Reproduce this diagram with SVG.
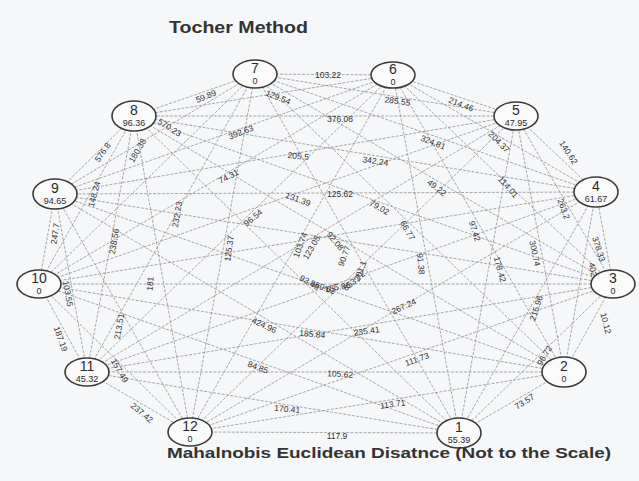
<svg xmlns="http://www.w3.org/2000/svg" width="639" height="481" viewBox="0 0 639 481">
<style>
.bg{fill:#f6f7f9}
.edge line{stroke:#939393;stroke-width:0.8;stroke-dasharray:3 1.4}
.node ellipse{fill:#fafafa;stroke:#3a3a3a;stroke-width:1.6}
.num{font-family:"Liberation Sans",Arial,sans-serif;font-size:14px;fill:#2a2a2a;text-anchor:middle}
.val{font-family:"Liberation Sans",Arial,sans-serif;font-size:9px;fill:#2a2a2a;text-anchor:middle}
.lbl text{font-family:"Liberation Sans",Arial,sans-serif;font-size:8.5px;fill:#333;text-anchor:middle}
.title{font-family:"Liberation Sans",Arial,sans-serif;font-weight:bold;fill:#333}
</style>
<rect class="bg" x="0" y="0" width="639" height="481"/>
<text class="title" x="169" y="33" font-size="17" textLength="139" lengthAdjust="spacingAndGlyphs">Tocher Method</text>
<g id="connectors" class="edge">
<line x1="459" y1="433" x2="564" y2="372"/><line x1="459" y1="433" x2="613" y2="284"/><line x1="459" y1="433" x2="596" y2="192"/><line x1="459" y1="433" x2="516" y2="116"/><line x1="459" y1="433" x2="393" y2="75"/><line x1="459" y1="433" x2="255" y2="74"/><line x1="459" y1="433" x2="134" y2="116"/><line x1="459" y1="433" x2="55" y2="194"/><line x1="459" y1="433" x2="39" y2="284"/><line x1="459" y1="433" x2="87" y2="372"/><line x1="459" y1="433" x2="190" y2="432"/>
<line x1="564" y1="372" x2="613" y2="284"/><line x1="564" y1="372" x2="596" y2="192"/><line x1="564" y1="372" x2="516" y2="116"/><line x1="564" y1="372" x2="393" y2="75"/><line x1="564" y1="372" x2="255" y2="74"/><line x1="564" y1="372" x2="134" y2="116"/><line x1="564" y1="372" x2="55" y2="194"/><line x1="564" y1="372" x2="39" y2="284"/><line x1="564" y1="372" x2="87" y2="372"/><line x1="564" y1="372" x2="190" y2="432"/>
<line x1="613" y1="284" x2="596" y2="192"/><line x1="613" y1="284" x2="516" y2="116"/><line x1="613" y1="284" x2="393" y2="75"/><line x1="613" y1="284" x2="255" y2="74"/><line x1="613" y1="284" x2="134" y2="116"/><line x1="613" y1="284" x2="55" y2="194"/><line x1="613" y1="284" x2="39" y2="284"/><line x1="613" y1="284" x2="87" y2="372"/><line x1="613" y1="284" x2="190" y2="432"/>
<line x1="596" y1="192" x2="516" y2="116"/><line x1="596" y1="192" x2="393" y2="75"/><line x1="596" y1="192" x2="255" y2="74"/><line x1="596" y1="192" x2="134" y2="116"/><line x1="596" y1="192" x2="55" y2="194"/><line x1="596" y1="192" x2="39" y2="284"/><line x1="596" y1="192" x2="87" y2="372"/><line x1="596" y1="192" x2="190" y2="432"/>
<line x1="516" y1="116" x2="393" y2="75"/><line x1="516" y1="116" x2="255" y2="74"/><line x1="516" y1="116" x2="134" y2="116"/><line x1="516" y1="116" x2="55" y2="194"/><line x1="516" y1="116" x2="39" y2="284"/><line x1="516" y1="116" x2="87" y2="372"/><line x1="516" y1="116" x2="190" y2="432"/>
<line x1="393" y1="75" x2="255" y2="74"/><line x1="393" y1="75" x2="134" y2="116"/><line x1="393" y1="75" x2="55" y2="194"/><line x1="393" y1="75" x2="39" y2="284"/><line x1="393" y1="75" x2="87" y2="372"/><line x1="393" y1="75" x2="190" y2="432"/>
<line x1="255" y1="74" x2="134" y2="116"/><line x1="255" y1="74" x2="55" y2="194"/><line x1="255" y1="74" x2="39" y2="284"/><line x1="255" y1="74" x2="87" y2="372"/><line x1="255" y1="74" x2="190" y2="432"/>
<line x1="134" y1="116" x2="55" y2="194"/><line x1="134" y1="116" x2="39" y2="284"/><line x1="134" y1="116" x2="87" y2="372"/><line x1="134" y1="116" x2="190" y2="432"/>
<line x1="55" y1="194" x2="39" y2="284"/><line x1="55" y1="194" x2="87" y2="372"/><line x1="55" y1="194" x2="190" y2="432"/>
<line x1="39" y1="284" x2="87" y2="372"/><line x1="39" y1="284" x2="190" y2="432"/>
<line x1="87" y1="372" x2="190" y2="432"/>
</g>
<g id="labels" class="lbl">
<text transform="translate(328,78)">103.22</text>
<text transform="translate(207,99) rotate(-22)">59.89</text>
<text transform="translate(277,100) rotate(22)">129.54</text>
<text transform="translate(397,104) rotate(8)">285.55</text>
<text transform="translate(460,107) rotate(22)">214.46</text>
<text transform="translate(340,122)">376.08</text>
<text transform="translate(168,130) rotate(32)">570.23</text>
<text transform="translate(242,135) rotate(-22)">392.63</text>
<text transform="translate(105,154) rotate(-55)">576.8</text>
<text transform="translate(432,145) rotate(22)">324.81</text>
<text transform="translate(298,159) rotate(5)">205.5</text>
<text transform="translate(375,164) rotate(8)">342.24</text>
<text transform="translate(497,144) rotate(45)">204.37</text>
<text transform="translate(566,154) rotate(58)">140.62</text>
<text transform="translate(140,152) rotate(-60)">180.38</text>
<text transform="translate(97,195) rotate(-75)">148.24</text>
<text transform="translate(230,179) rotate(-28)">74.31</text>
<text transform="translate(297,202) rotate(20)">131.39</text>
<text transform="translate(340,197)">125.62</text>
<text transform="translate(378,210) rotate(30)">79.02</text>
<text transform="translate(435,190) rotate(38)">49.22</text>
<text transform="translate(506,189) rotate(48)">114.01</text>
<text transform="translate(561,210) rotate(70)">263.2</text>
<text transform="translate(180,215) rotate(-80)">232.23</text>
<text transform="translate(255,220) rotate(-40)">96.54</text>
<text transform="translate(405,232) rotate(60)">66.77</text>
<text transform="translate(472,232) rotate(72)">97.42</text>
<text transform="translate(117,242) rotate(-80)">238.56</text>
<text transform="translate(58,234) rotate(-82)">247.7</text>
<text transform="translate(232,249) rotate(-82)">125.37</text>
<text transform="translate(418,264) rotate(85)">91.38</text>
<text transform="translate(497,270) rotate(75)">178.42</text>
<text transform="translate(532,254) rotate(78)">300.74</text>
<text transform="translate(596,250) rotate(72)">378.33</text>
<text transform="translate(591,276) rotate(80)">402.78</text>
<text transform="translate(153,284) rotate(-85)">181</text>
<text transform="translate(65,294) rotate(80)">103.55</text>
<text transform="translate(122,327) rotate(-80)">213.51</text>
<text transform="translate(263,328) rotate(25)">424.96</text>
<text transform="translate(312,337) rotate(5)">185.84</text>
<text transform="translate(367,334) rotate(-8)">235.41</text>
<text transform="translate(405,309) rotate(-25)">267.24</text>
<text transform="translate(539,309) rotate(-72)">215.96</text>
<text transform="translate(603,324) rotate(75)">10.12</text>
<text transform="translate(547,357) rotate(-60)">96.72</text>
<text transform="translate(418,362) rotate(-20)">111.73</text>
<text transform="translate(257,370) rotate(20)">84.85</text>
<text transform="translate(340,377) rotate(3)">105.62</text>
<text transform="translate(58,340) rotate(70)">187.19</text>
<text transform="translate(117,372) rotate(60)">157.49</text>
<text transform="translate(287,412) rotate(5)">170.41</text>
<text transform="translate(393,407) rotate(-8)">113.71</text>
<text transform="translate(526,404) rotate(-32)">73.57</text>
<text transform="translate(140,415) rotate(40)">237.42</text>
<text transform="translate(337,439)">117.9</text>
<text transform="translate(303,246) rotate(-70)">103.74</text>
<text transform="translate(314,249) rotate(-60)">123.05</text>
<text transform="translate(333,243) rotate(50)">92.08</text>
<text transform="translate(347,257) rotate(-70)">90.77</text>
<text transform="translate(363,272) rotate(-70)">201.1</text>
<text transform="translate(308,285) rotate(30)">93.46</text>
<text transform="translate(322,290) rotate(20)">550.62</text>
<text transform="translate(338,290) rotate(-10)">185.86</text>
<text transform="translate(356,283) rotate(-40)">853.72</text>
</g>
<g id="node-7" class="node"><ellipse cx="255" cy="74" rx="22" ry="14"/><text class="num" x="255" y="73">7</text><text class="val" x="255" y="84">0</text></g>
<g id="node-6" class="node"><ellipse cx="393" cy="75" rx="22" ry="13"/><text class="num" x="393" y="74">6</text><text class="val" x="393" y="85">0</text></g>
<g id="node-8" class="node"><ellipse cx="134" cy="116" rx="22" ry="15"/><text class="num" x="134" y="115">8</text><text class="val" x="134" y="126">96.36</text></g>
<g id="node-5" class="node"><ellipse cx="516" cy="116" rx="22" ry="14"/><text class="num" x="516" y="115">5</text><text class="val" x="516" y="126">47.95</text></g>
<g id="node-9" class="node"><ellipse cx="55" cy="194" rx="22" ry="15"/><text class="num" x="55" y="193">9</text><text class="val" x="55" y="204">94.65</text></g>
<g id="node-4" class="node"><ellipse cx="596" cy="192" rx="22" ry="15"/><text class="num" x="596" y="191">4</text><text class="val" x="596" y="202">61.67</text></g>
<g id="node-10" class="node"><ellipse cx="39" cy="284" rx="22" ry="14"/><text class="num" x="39" y="283">10</text><text class="val" x="39" y="294">0</text></g>
<g id="node-3" class="node"><ellipse cx="613" cy="284" rx="22" ry="14"/><text class="num" x="613" y="283">3</text><text class="val" x="613" y="294">0</text></g>
<g id="node-11" class="node"><ellipse cx="87" cy="372" rx="22" ry="14"/><text class="num" x="87" y="371">11</text><text class="val" x="87" y="382">45.32</text></g>
<g id="node-2" class="node"><ellipse cx="564" cy="372" rx="22" ry="15"/><text class="num" x="564" y="371">2</text><text class="val" x="564" y="382">0</text></g>
<g id="node-12" class="node"><ellipse cx="190" cy="432" rx="22" ry="14"/><text class="num" x="190" y="431">12</text><text class="val" x="190" y="442">0</text></g>
<g id="node-1" class="node"><ellipse cx="459" cy="433" rx="22" ry="15"/><text class="num" x="459" y="432">1</text><text class="val" x="459" y="443">55.39</text></g>
<text class="title" x="167" y="458" font-size="15.5" textLength="444" lengthAdjust="spacingAndGlyphs">Mahalnobis Euclidean Disatnce (Not to the Scale)</text>
</svg>
